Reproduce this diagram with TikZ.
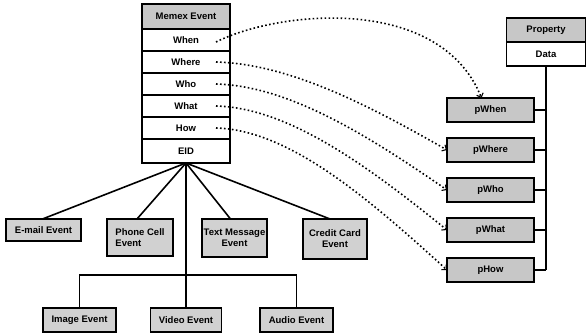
\documentclass[tikz,border=0pt]{standalone}
\usepackage{fontspec}
\setmainfont{Liberation Sans}
\usepackage{tikz}
\usetikzlibrary{positioning,arrows.meta}

\tikzset{
  cell/.style={draw, line width=1.2pt, fill=white, minimum width=88pt, minimum height=22pt,
    inner sep=1pt, outer sep=0pt, font=\bfseries\fontsize{9.5}{10.5}\selectfont},
  head/.style={cell, fill=black!22},
  pbox/.style={head, minimum width=87pt, minimum height=24pt},
  ev/.style={draw, line width=1.4pt, fill=black!18, align=center, inner sep=1pt, outer sep=0pt,
    font=\bfseries\fontsize{9.5}{11}\selectfont},
  link/.style={line width=1.6pt, dash pattern=on 1.6pt off 2.4pt,
    -{Straight Barb[length=3.5pt,width=7pt,line width=1.1pt]}},
  tree/.style={line width=1.6pt},
}

\begin{document}
\begin{tikzpicture}[x=1pt, y=-1pt]
  \useasboundingbox (0,0) rectangle (587,336);

  \node[head, minimum height=25pt] (hd) at (186,16.5) {Memex Event};
  \node[cell, below=0pt of hd] (wn) {When};
  \node[cell, below=0pt of wn] (wr) {Where};
  \node[cell, below=0pt of wr] (wo) {Who};
  \node[cell, below=0pt of wo] (wt) {What};
  \node[cell, below=0pt of wt] (hw) {How};
  \node[cell, below=0pt of hw, minimum height=24pt] (eid) {EID};

  \node[head, minimum width=79pt, minimum height=24pt] (pr) at (546,30) {Property};
  \node[cell, minimum width=79pt, minimum height=24pt, below=0pt of pr] (da) {Data};

  \node[pbox] (pwn) at (490.5,110) {pWhen};
  \node[pbox, below=16pt of pwn] (pwr) {pWhere};
  \node[pbox, below=16pt of pwr] (pwo) {pWho};
  \node[pbox, below=16pt of pwo] (pwt) {pWhat};
  \node[pbox, below=16pt of pwt] (phw) {pHow};

  \draw[tree] (da.south) -- (da.south |- phw.east);
  \foreach \p in {pwn,pwr,pwo,pwt,phw}
    \draw[tree] (\p.east) -- (da.south |- \p.east);

  \draw[link] ([xshift=-14pt,yshift=-2pt]wn.east) .. controls (280,10) and (440,-5) .. ([xshift=-9pt]pwn.north);
  \draw[link] ([xshift=-14pt]wr.east) .. controls (290,64) and (370,106) .. (pwr.west);
  \draw[link] ([xshift=-14pt]wo.east) .. controls (290,86) and (370,137) .. (pwo.west);
  \draw[link] ([xshift=-14pt]wt.east) .. controls (290,108) and (370,168) .. (pwt.west);
  \draw[link] ([xshift=-14pt]hw.east) .. controls (290,130) and (370,200) .. (phw.west);

  \node[ev, anchor=north, minimum width=75pt, minimum height=22pt] (em) at (43.5,219) {E-mail Event};
  \node[ev, anchor=north, minimum width=66pt, minimum height=37pt, align=left] (pc) at (140,219) {Phone Cell\\Event};
  \node[ev, anchor=north, minimum width=65pt, minimum height=38pt] (tm) at (234.5,219) {Text Message\\Event};
  \node[ev, anchor=north, minimum width=64pt, minimum height=40pt] (cc) at (335,219) {Credit Card\\Event};

  \node[ev, minimum width=73pt, minimum height=24pt] (img) at (79.5,320) {Image Event};
  \node[ev, minimum width=71pt, minimum height=24pt] (vid) at (186,320) {Video Event};
  \node[ev, minimum width=73pt, minimum height=24pt] (aud) at (296.5,320) {Audio Event};
  \coordinate (bus) at (186,275);

  \foreach \e/\dx in {em/-1,pc/-3,tm/-4,cc/-5}
    \draw[tree] (eid.south) -- ([xshift=\dx pt]\e.north);
  \draw[tree] (eid.south) -- (vid.north);
  \draw[tree] (img.north) |- (bus) -| (aud.north);
\end{tikzpicture}
\end{document}
